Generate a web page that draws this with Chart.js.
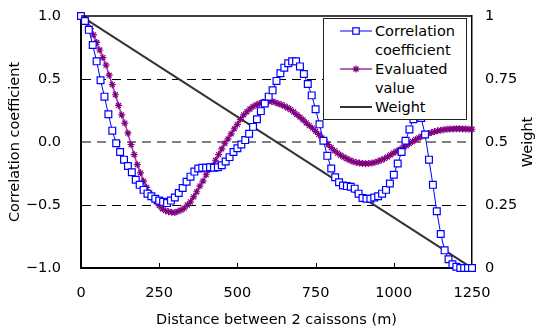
<!DOCTYPE html>
<html>
<head>
<meta charset="utf-8">
<script src="https://cdn.jsdelivr.net/npm/chart.js@4.4.1/dist/chart.umd.min.js"></script>
<style>
  html, body { margin: 0; padding: 0; background: #fff; }
  #wrap { position: relative; width: 539px; height: 329px; }
  #legend {
    position: absolute; left: 323px; top: 18px; width: 144px; height: 102px;
    box-sizing: border-box; border: 1px solid #222; background: #fff;
    font: 14.5px "DejaVu Sans", sans-serif; color: #000;
  }
  #legend .row { position: absolute; left: 51px; height: 19px; line-height: 19px; white-space: nowrap; }
  #legend svg { position: absolute; left: 16px; }
</style>
</head>
<body>
<div id="wrap">
  <canvas id="chart" width="539" height="329"></canvas>
  <div id="legend">
    <svg style="top:6px" width="32" height="12">
      <line x1="0" y1="6" x2="32" y2="6" stroke="#0000ff" stroke-width="1"/>
      <rect x="12.8" y="2.8" width="6.4" height="6.4" fill="#fff" stroke="#0000ff" stroke-width="1.2"/>
    </svg>
    <div class="row" style="top:2.5px">Correlation</div>
    <div class="row" style="top:21.5px">coefficient</div>
    <svg style="top:44px" width="32" height="12">
      <line x1="0" y1="6" x2="32" y2="6" stroke="#b066b0" stroke-width="2"/>
      <path d="M16 2.5V9.5M12.5 6H19.5M13.5 3.5L18.5 8.5M13.5 8.5L18.5 3.5" stroke="#800080" stroke-width="1.2"/>
    </svg>
    <div class="row" style="top:40.5px">Evaluated</div>
    <div class="row" style="top:59.5px">value</div>
    <svg style="top:82px" width="32" height="12">
      <line x1="0" y1="6" x2="32" y2="6" stroke="#333" stroke-width="2"/>
    </svg>
    <div class="row" style="top:78.5px">Weight</div>
  </div>
</div>
<script>
// distances (m): correlation sampled every 12.5 m, evaluated value every 10 m
const CORR_STEP = 12.5;
const EVAL_STEP = 10;

const corrValues = [
  1.00, 0.96, 0.89, 0.77, 0.64, 0.49, 0.36, 0.22, 0.09, -0.01,
  -0.08, -0.14, -0.19, -0.24, -0.30, -0.34, -0.38, -0.41, -0.43, -0.45,
  -0.465, -0.475, -0.485, -0.465, -0.44, -0.405, -0.365, -0.315, -0.275, -0.235,
  -0.21, -0.205, -0.205, -0.20, -0.205, -0.20, -0.185, -0.155, -0.12, -0.08,
  -0.05, -0.02, 0.015, 0.065, 0.12, 0.18, 0.245, 0.305, 0.36, 0.41,
  0.485, 0.545, 0.59, 0.625, 0.64, 0.64, 0.60, 0.54, 0.46, 0.37,
  0.26, 0.14, 0.01, -0.11, -0.21, -0.28, -0.32, -0.345, -0.35, -0.355,
  -0.37, -0.41, -0.445, -0.45, -0.45, -0.44, -0.43, -0.41, -0.38, -0.33,
  -0.26, -0.17, -0.08, 0.01, 0.10, 0.18, 0.26, 0.19, 0.06, -0.14,
  -0.34, -0.55, -0.73, -0.86, -0.93, -0.97, -0.99, -1.0, -1.0, -1.0,
  -1.0
];

const evalValues = [
  1.00, 0.98, 0.95, 0.90, 0.85, 0.79, 0.73, 0.67, 0.61, 0.53,
  0.455, 0.375, 0.29, 0.215, 0.15, 0.07, -0.02, -0.10, -0.18, -0.245,
  -0.31, -0.36, -0.405, -0.445, -0.475, -0.505, -0.53, -0.545, -0.553, -0.558,
  -0.56, -0.55, -0.54, -0.525, -0.50, -0.475, -0.435, -0.395, -0.35, -0.31,
  -0.26, -0.22, -0.19, -0.145, -0.10, -0.055, -0.01, 0.025, 0.065, 0.105,
  0.14, 0.18, 0.215, 0.24, 0.262, 0.28, 0.295, 0.305, 0.315, 0.32,
  0.322, 0.322, 0.315, 0.305, 0.297, 0.285, 0.272, 0.257, 0.238, 0.218,
  0.198, 0.176, 0.152, 0.13, 0.11, 0.085, 0.06, 0.032, 0.005, -0.02,
  -0.045, -0.068, -0.088, -0.105, -0.12, -0.133, -0.145, -0.155, -0.162, -0.167,
  -0.17, -0.172, -0.17, -0.167, -0.161, -0.153, -0.143, -0.132, -0.118, -0.102,
  -0.086, -0.072, -0.058, -0.043, -0.028, -0.012, 0.004, 0.02, 0.033, 0.046,
  0.057, 0.067, 0.075, 0.083, 0.089, 0.094, 0.098, 0.101, 0.103, 0.104,
  0.105, 0.105, 0.104, 0.103, 0.102, 0.101
];

const weightDist = [0, 1250];
const weightValues = [1, 0];

const xTicks = [0, 250, 500, 750, 1000, 1250];
const yTicks = [-1, -0.5, 0, 0.5, 1];
const y2Ticks = [0, 0.25, 0.5, 0.75, 1];

const FONT = { family: '"DejaVu Sans", sans-serif', size: 14.5 };

const corrPoints = corrValues.map((v, i) => ({ x: i * CORR_STEP, y: v }));
const evalPoints = evalValues.map((v, i) => ({ x: i * EVAL_STEP, y: v }));
const weightPoints = weightDist.map((d, i) => ({ x: d, y: weightValues[i] }));

// fixed axis sizes so the plot area sits where the original one does
function fitVertical(width) {
  return (s) => {
    s.width = width;
    s.paddingTop = 16;
    s.paddingBottom = 0;
  };
}

const frame = {
  id: "frame",
  afterDraw(chart) {
    const { ctx, chartArea: a, scales } = chart;
    ctx.save();
    ctx.strokeStyle = "#000";
    ctx.lineWidth = 1.5;
    ctx.beginPath();
    ctx.moveTo(a.left, a.top);
    ctx.lineTo(a.right, a.top);
    ctx.stroke();
    // short inward tick marks on the distance axis
    ctx.lineWidth = 1;
    ctx.beginPath();
    xTicks.slice(1, -1).forEach((v) => {
      const px = Math.round(scales.x.getPixelForValue(v)) + 0.5;
      ctx.moveTo(px, a.bottom);
      ctx.lineTo(px, a.bottom - 5);
    });
    ctx.stroke();
    // right axis title, reading upwards
    ctx.translate(528, (a.top + a.bottom) / 2);
    ctx.rotate(-Math.PI / 2);
    ctx.fillStyle = "#000";
    ctx.font = '14.5px "DejaVu Sans", sans-serif';
    ctx.textAlign = "center";
    ctx.textBaseline = "middle";
    ctx.fillText("Weight", 0, 0);
    ctx.restore();
  },
};

new Chart(document.getElementById("chart"), {
  type: "line",
  data: {
    datasets: [
      {
        label: "Correlation coefficient",
        data: corrPoints,
        borderColor: "#0000ff",
        borderWidth: 1,
        pointStyle: "rect",
        pointRadius: 4.8,
        pointBorderWidth: 1.2,
        pointBorderColor: "#0000ff",
        pointBackgroundColor: "#fff",
        tension: 0,
        clip: false,
      },
      {
        label: "Evaluated value",
        data: evalPoints,
        borderColor: "#993399",
        borderWidth: 1.5,
        pointStyle: "star",
        pointRadius: 3.5,
        pointBorderWidth: 1.2,
        pointBorderColor: "#800080",
        pointBackgroundColor: "#800080",
        tension: 0,
        clip: false,
      },
      {
        label: "Weight",
        data: weightPoints,
        yAxisID: "y2",
        borderColor: "#333",
        borderWidth: 2,
        pointRadius: 0,
        tension: 0,
      },
    ],
  },
  options: {
    responsive: false,
    animation: false,
    layout: { padding: 0 },
    plugins: { legend: { display: false }, tooltip: { enabled: false } },
    scales: {
      x: {
        type: "linear",
        min: 0,
        max: 1250,
        afterBuildTicks: (s) => { s.ticks = xTicks.map((v) => ({ value: v })); },
        afterFit: (s) => { s.height = 61; },
        grid: { display: false, drawTicks: false },
        border: { color: "#000", width: 2 },
        ticks: { color: "#000", font: FONT, padding: 17, maxRotation: 0, callback: (v) => String(v) },
        title: {
          display: true,
          text: "Distance between 2 caissons (m)",
          color: "#000",
          font: FONT,
          padding: { top: 0, bottom: 0 },
        },
      },
      y: {
        position: "left",
        min: -1,
        max: 1,
        afterBuildTicks: (s) => { s.ticks = yTicks.map((v) => ({ value: v })); },
        afterFit: fitVertical(81),
        grid: {
          drawTicks: false,
          color: (c) => (c.tick && Math.abs(c.tick.value) === 1 ? "rgba(0,0,0,0)" : c.tick && c.tick.value === 0 ? "#808080" : "#000"),
          lineWidth: (c) => (c.tick && c.tick.value === 0 ? 2 : 1),
        },
        border: { color: "#000", width: 2, dash: [9, 6] },
        ticks: {
          color: "#000",
          font: FONT,
          padding: 20,
          callback: (v) => v.toFixed(1).replace("-", "\u2212"),
        },
        title: {
          display: true,
          text: "Correlation coefficient",
          color: "#000",
          font: FONT,
          padding: { top: 7, bottom: 0 },
        },
      },
      y2: {
        position: "right",
        min: 0,
        max: 1,
        afterBuildTicks: (s) => { s.ticks = y2Ticks.map((v) => ({ value: v })); },
        afterFit: fitVertical(67),
        grid: { drawOnChartArea: false, drawTicks: false },
        border: { color: "#000", width: 1.5 },
        ticks: { color: "#000", font: FONT, padding: 13, callback: (v) => String(v) },
      },
    },
  },
  plugins: [frame],
});
</script>
</body>
</html>
